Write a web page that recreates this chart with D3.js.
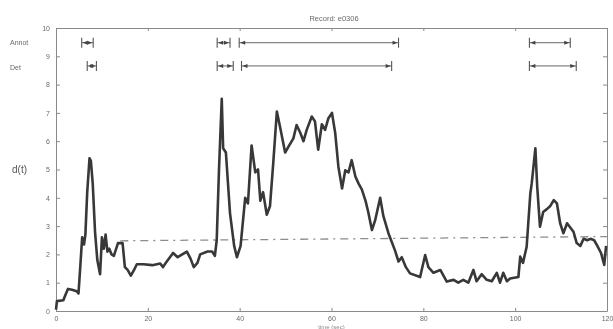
<!DOCTYPE html>
<html>
<head>
<meta charset="utf-8">
<script src="https://cdn.jsdelivr.net/npm/d3@7"></script>
<style>
  html, body { margin: 0; padding: 0; background: #fff; }
  #chart svg { display: block; filter: blur(0.5px); }
  .axis text { font-family: "Liberation Sans", Arial, sans-serif; font-size: 7px; fill: #6a6a6a; }
  .axis path, .axis line { stroke: #8a8a8a; }
</style>
</head>
<body>
<div id="chart"></div>
<script>
// ---- data ----
const times = [
  0, 0.2, 1.6, 2.0, 2.6, 3.5, 4.5, 4.9, 5.3, 5.7,
  6.1, 6.4, 6.8, 7.3, 7.6, 8.0, 8.5, 9.0, 9.6, 10.0,
  10.4, 10.8, 11.2, 11.6, 12.1, 12.6, 13.5, 14.5, 15.0, 15.6,
  16.3, 17.0, 17.6, 19.0, 21.0, 22.7, 23.3, 24.0, 25.5, 26.5,
  28.5, 29.3, 30.0, 30.8, 31.4, 33.0, 34.0, 34.6, 35.0, 35.5,
  36.1, 36.4, 37.0, 37.9, 38.8, 39.4, 40.2, 41.2, 41.8, 42.6,
  43.4, 44.0, 44.5, 45.1, 45.9, 46.6, 47.3, 48.1, 48.8, 49.9,
  50.6, 51.7, 52.4, 53.2, 53.9, 54.6, 55.7, 56.4, 57.1, 57.9,
  58.6, 59.3, 60.1, 60.8, 61.5, 62.3, 63.0, 63.7, 64.4, 65.2,
  65.9, 66.6, 67.4, 68.0, 68.8, 69.5, 70.6, 71.3, 72.4, 73.8,
  74.6, 75.3, 76.2, 77.1, 79.3, 80.4, 81.1, 82.2, 83.7, 85.1,
  86.6, 87.6, 88.7, 89.8, 90.9, 91.6, 92.7, 93.8, 94.9, 96.0,
  96.7, 97.4, 98.2, 98.9, 100.7, 101.1, 101.7, 102.5, 103.3, 103.6,
  104.4, 104.8, 105.4, 106.1, 106.9, 107.6, 108.4, 109.1, 109.8, 110.5,
  111.3, 112.0, 112.7, 113.4, 114.2, 114.9, 115.7, 116.4, 117.2, 117.9,
  118.7, 119.4, 119.8
];
const dValues = [
  0.05, 0.35, 0.38, 0.55, 0.78, 0.75, 0.7, 0.62, 1.6, 2.6,
  2.35, 2.7, 4.2, 5.4, 5.3, 4.5, 2.8, 1.8, 1.3, 2.6,
  2.2, 2.7, 2.1, 2.2, 2.0, 1.95, 2.4, 2.4, 1.55, 1.45,
  1.25, 1.45, 1.65, 1.65, 1.62, 1.68, 1.55, 1.72, 2.05, 1.9,
  2.1, 1.85, 1.55, 1.7, 2.0, 2.1, 2.1, 1.95, 2.5, 5.0,
  7.5, 5.75, 5.6, 3.45, 2.3, 1.9, 2.3, 4.0, 3.8, 5.85,
  4.9, 5.0, 3.9, 4.2, 3.4, 3.7, 5.2, 7.05, 6.5, 5.6,
  5.8, 6.1, 6.57, 6.3, 6.0, 6.4, 6.87, 6.7, 5.7, 6.6,
  6.4, 6.8, 7.0, 6.3, 5.1, 4.33, 4.97, 4.9, 5.33, 4.75,
  4.5, 4.3, 3.9, 3.5, 2.86, 3.2, 4.0, 3.35, 2.75, 2.15,
  1.75, 1.9, 1.55, 1.33, 1.2, 1.98, 1.55, 1.35, 1.45, 1.04,
  1.1, 1.0, 1.1, 1.0, 1.45, 1.05, 1.3, 1.1, 1.05, 1.35,
  1.0, 1.35, 1.05, 1.15, 1.2, 1.92, 1.7, 2.27, 4.15, 4.5,
  5.75, 4.4, 2.98, 3.5, 3.6, 3.7, 3.92, 3.8, 3.1, 2.75,
  3.1, 2.95, 2.8, 2.4, 2.3, 2.55, 2.5, 2.55, 2.5, 2.3,
  2.05, 1.63, 2.3
];
// threshold (dash-dot) line
const thresholdTimes = [14, 120];
const thresholdValues = [2.48, 2.63];
// episode intervals [start, end] in seconds
const annotIntervals = [[5.6, 8.1], [35.1, 37.9], [39.9, 74.6], [103.1, 112.0]];
const detIntervals = [[6.8, 8.8], [35.1, 38.6], [40.4, 73.1], [103.1, 113.3]];
const xTicks = [0, 20, 40, 60, 80, 100, 120];
const yTicks = [0, 1, 2, 3, 4, 5, 6, 7, 8, 9, 10];
const rowLabels = ["Annot", "Det"];
const rowLevels = [9.48, 8.66];
const title = "Record: e0306";
const yLabel = "d(t)";
const xLabel = "time (sec)";

// ---- layout ----
const W = 613, H = 329;
const margin = { left: 56, right: 6, top: 28, bottom: 18 };
const width = W - margin.left - margin.right;
const height = H - margin.top - margin.bottom;

const svg = d3.select("#chart").append("svg")
    .attr("width", W).attr("height", H);
const g = svg.append("g")
    .attr("transform", "translate(" + margin.left + "," + margin.top + ")");

const x = d3.scaleLinear().domain([0, 120]).range([0, width]);
const y = d3.scaleLinear().domain([0, 10]).range([height, 0]);

// axes, MATLAB style: ticks pointing inward, box all round
g.append("g").attr("class", "axis")
    .attr("transform", "translate(0," + height + ")")
    .call(d3.axisBottom(x).tickValues(xTicks).tickSize(-3).tickPadding(5).tickSizeOuter(0));
g.append("g").attr("class", "axis")
    .call(d3.axisTop(x).tickValues(xTicks).tickSize(-3).tickFormat("").tickSizeOuter(0));
g.append("g").attr("class", "axis")
    .call(d3.axisLeft(y).tickValues(yTicks).tickSize(-4).tickPadding(6).tickSizeOuter(0));
g.append("g").attr("class", "axis")
    .attr("transform", "translate(" + width + ",0)")
    .call(d3.axisRight(y).tickValues(yTicks).tickSize(-4).tickFormat("").tickSizeOuter(0));

// threshold line
const thr = thresholdTimes.map((t, i) => [t, thresholdValues[i]]);
g.append("path")
    .datum(thr)
    .attr("fill", "none")
    .attr("stroke", "#8c8c8c")
    .attr("stroke-width", 1.3)
    .attr("stroke-dasharray", "8,5,2,5")
    .attr("d", d3.line().x(d => x(d[0])).y(d => y(d[1])));

// d(t) trace
const series = times.map((t, i) => [t, dValues[i]]);
g.append("path")
    .datum(series)
    .attr("fill", "none")
    .attr("stroke", "#383838")
    .attr("stroke-width", 2.6)
    .attr("stroke-linejoin", "round")
    .attr("d", d3.line().x(d => x(d[0])).y(d => y(d[1])));

// interval rows
function drawIntervals(list, level) {
  const yy = y(level);
  const grp = g.append("g");
  list.forEach(([a, b]) => {
    const x0 = x(a), x1 = x(b);
    grp.append("line").attr("x1", x0).attr("x2", x1).attr("y1", yy).attr("y2", yy)
        .attr("stroke", "#555").attr("stroke-width", 0.9);
    [x0, x1].forEach((xx, k) => {
      grp.append("line").attr("x1", xx).attr("x2", xx).attr("y1", yy - 5).attr("y2", yy + 5)
          .attr("stroke", "#555").attr("stroke-width", 1.1);
      const dir = k === 0 ? 1 : -1;
      grp.append("path")
          .attr("d", "M" + (xx + dir * 1) + "," + yy + " L" + (xx + dir * 6) + "," + (yy - 2) +
                " L" + (xx + dir * 6) + "," + (yy + 2) + " Z")
          .attr("fill", "#444");
    });
  });
}
drawIntervals(annotIntervals, rowLevels[0]);
drawIntervals(detIntervals, rowLevels[1]);

// text
svg.selectAll(".rowlabel")
  .data(rowLabels)
  .enter().append("text")
    .attr("class", "rowlabel")
    .attr("x", 10)
    .attr("y", (d, i) => margin.top + y(rowLevels[i]) + (i === 0 ? 2 : 4))
    .attr("font-family", "Liberation Sans, Arial, sans-serif")
    .attr("font-size", 7).attr("fill", "#6a6a6a")
    .text(d => d);

svg.append("text")
    .attr("x", 334).attr("y", 21)
    .attr("text-anchor", "middle")
    .attr("font-family", "Liberation Sans, Arial, sans-serif")
    .attr("font-size", 7.5).attr("fill", "#6a6a6a")
    .text(title);

svg.append("text")
    .attr("x", 12).attr("y", margin.top + y(5) + 3)
    .attr("font-family", "Liberation Sans, Arial, sans-serif")
    .attr("font-size", 10).attr("fill", "#555")
    .text(yLabel);

svg.append("text")
    .attr("x", margin.left + x(60)).attr("y", H - 0.5)
    .attr("text-anchor", "middle")
    .attr("font-family", "Liberation Sans, Arial, sans-serif")
    .attr("font-size", 6).attr("fill", "#8a8a8a")
    .text(xLabel);
</script>
</body>
</html>
